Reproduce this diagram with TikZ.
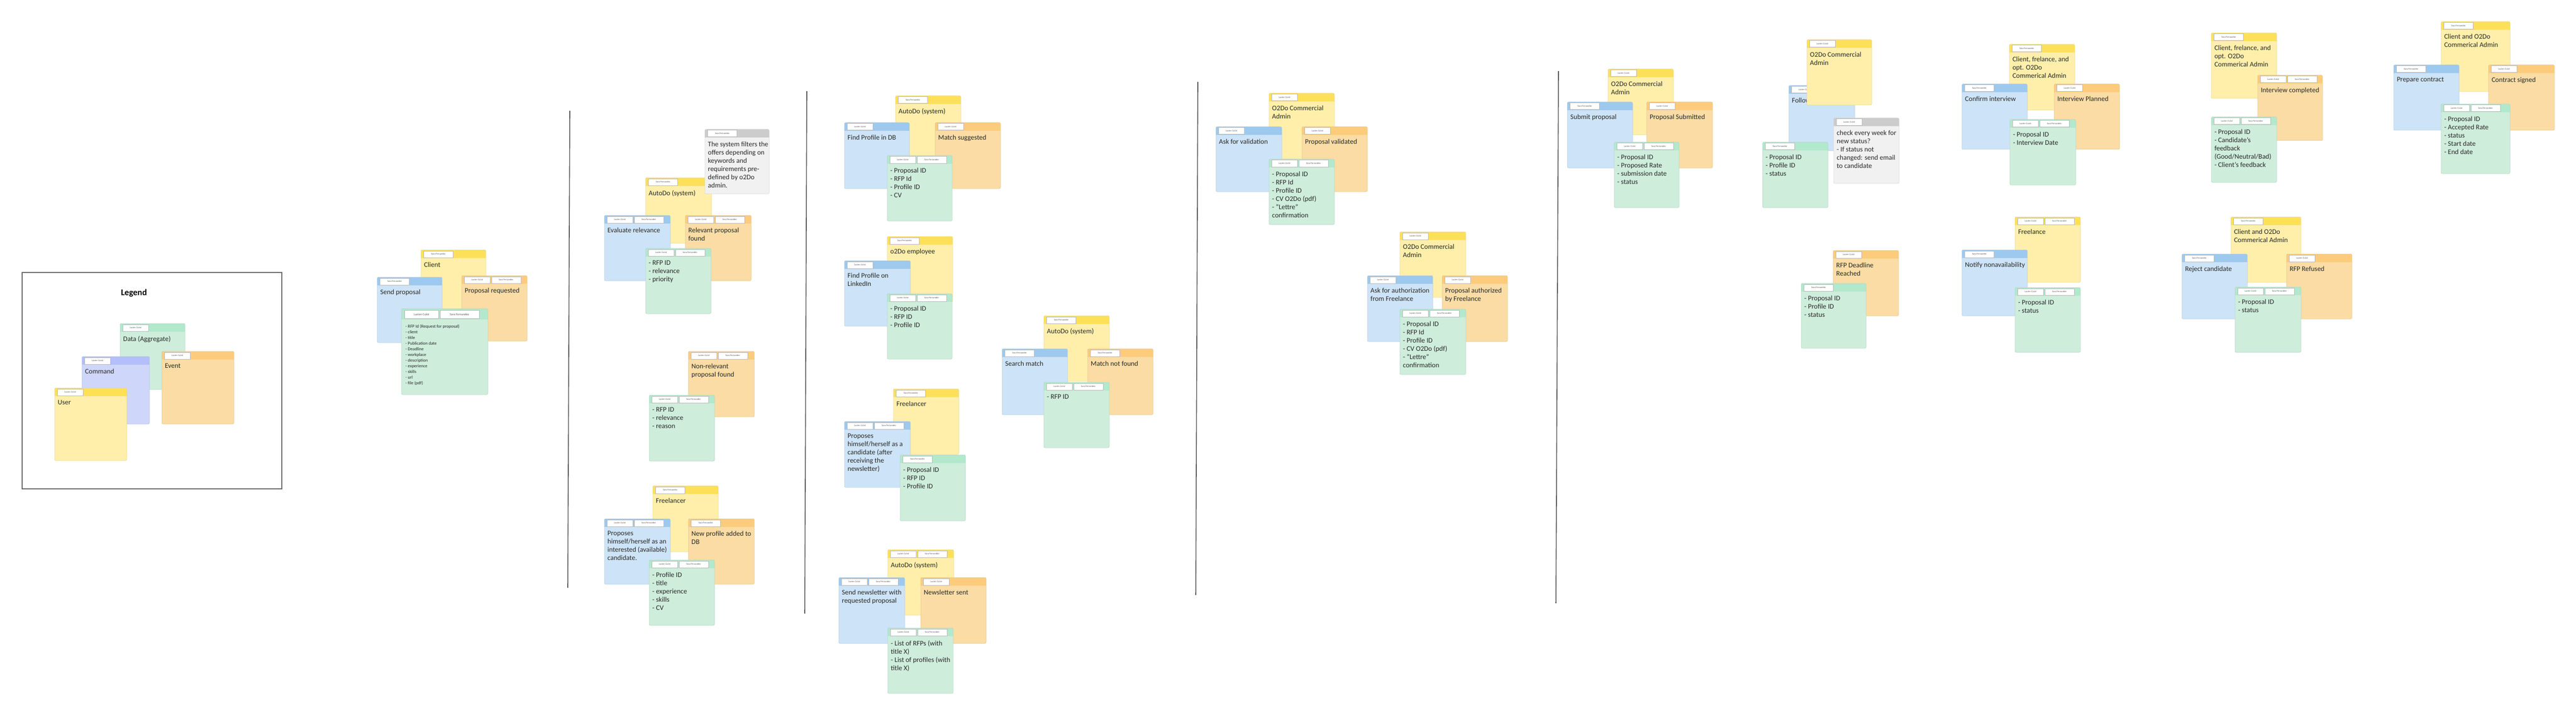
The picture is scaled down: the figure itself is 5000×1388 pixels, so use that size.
\documentclass[tikz,border=0pt]{standalone}
\usepackage{fontspec}
\setmainfont{Carlito}
\definecolor{usrhead}{RGB}{253,224,90}
\definecolor{usrbody}{RGB}{255,239,170}
\definecolor{cmdhead}{RGB}{157,201,238}
\definecolor{cmdbody}{RGB}{205,227,247}
\definecolor{evthead}{RGB}{252,204,124}
\definecolor{evtbody}{RGB}{250,220,164}
\definecolor{dathead}{RGB}{178,232,204}
\definecolor{datbody}{RGB}{206,237,219}
\definecolor{notehead}{RGB}{204,204,204}
\definecolor{notebody}{RGB}{241,241,241}
\definecolor{lavhead}{RGB}{180,190,250}
\definecolor{lavbody}{RGB}{206,214,250}
\definecolor{txtc}{RGB}{40,40,40}
\definecolor{tagedge}{RGB}{185,185,185}
\definecolor{tagtxt}{RGB}{85,85,85}
\definecolor{divc}{RGB}{85,85,85}
\tikzset{
  stxt/.style={anchor=north west, inner sep=0pt, align=left, font=\fontsize{13.5}{16}\selectfont, text=txtc},
  tagbox/.style={draw=tagedge, fill=white, line width=0.5pt, minimum height=13pt, inner sep=0pt, font=\fontsize{4.5}{5}\selectfont, text=tagtxt},
  divider/.style={draw=divc, line width=1.6pt},
  legframe/.style={draw=black!60, line width=1.3pt}
}
\newcommand\tgL[3]{\node[tagbox,minimum width=50pt,anchor=north west] (#1-ta) at (#2+5,#3+1.5) {Lucien Culot};}
\newcommand\tgS[3]{\node[tagbox,minimum width=57pt,anchor=north west] (#1-ta) at (#2+5,#3+1.5) {Sara Fernandez};}
\newcommand\tgLS[3]{\tgL{#1}{#2}{#3}\node[tagbox,minimum width=57pt,anchor=north west] (#1-tb) at ([xshift=2pt]#1-ta.north east) {Sara Fernandez};}
\newcommand\mkstk[8]{%
  \fill[#2head,rounded corners=2.5pt] (#3,#4) rectangle (#5,#6);
  \fill[#2body,rounded corners=2.5pt] (#3,#4+16) rectangle (#5,#6);
  \fill[#2body] (#3,#4+16) rectangle (#5,#4+22);
  \draw[#2body!88!black,line width=0.5pt,rounded corners=2.5pt] (#3,#4) rectangle (#5,#6);
  \csname tg#7\endcsname{#1}{#3}{#4}%
  \node[stxt] (#1) at (#3+6,#4+24) {#8};
}
\begin{document}
\begin{tikzpicture}[x=1pt,y=-1pt]
\useasboundingbox (0,0) rectangle (5000,1388);
\fill[white] (0,0) rectangle (5000,1388);

% ---------- Legend ----------
\draw[legframe] (43,529) rectangle (547,949);
\node[font=\fontsize{17}{20}\selectfont\bfseries, text=black, inner sep=0pt] (legtitle) at (260,569) {Legend};
\mkstk{lgData}{dat}{233}{628}{359}{756}{L}{Data (Aggregate)}
\mkstk{lgCmd}{lav}{159}{692}{290}{823}{L}{Command}
\mkstk{lgEvt}{evt}{314}{682}{454}{823}{L}{Event}
\mkstk{lgUsr}{usr}{106}{753}{246}{894}{L}{User}

% ---------- Client cluster ----------
\mkstk{client}{usr}{817}{485}{943}{612}{S}{Client}
\mkstk{sendProp}{cmd}{732}{538}{858}{665}{S}{Send proposal}
\mkstk{propReq}{evt}{896}{535}{1023}{662}{LS}{Proposal requested}
\fill[dathead,rounded corners=3pt] (779,599) rectangle (947,766);
\fill[datbody,rounded corners=3pt] (779,620) rectangle (947,766);
\fill[datbody] (779,620) rectangle (947,628);
\draw[datbody!88!black,line width=0.5pt,rounded corners=3pt] (779,599) rectangle (947,766);
\node[tagbox,minimum width=66pt,minimum height=16pt,font=\fontsize{6}{7}\selectfont,anchor=north west] (rfpData-ta) at (785,602) {Lucien Culot};
\node[tagbox,minimum width=76pt,minimum height=16pt,font=\fontsize{6}{7}\selectfont,anchor=north west] (rfpData-tb) at ([xshift=2pt]rfpData-ta.north east) {Sara Fernandez};
\node[stxt,font=\fontsize{8.5}{11}\selectfont] (rfpData) at (787,630) {- RFP Id (Request for proposal)\\- client\\- title\\- Publication date\\- Deadline\\- workplace\\- description\\- experience\\- skills\\- url\\- file (pdf)};

% ---------- Section 1 ----------
\coordinate (d1a) at (1106,215); \coordinate (d1b) at (1102,1141);
\draw[divider] (d1a) -- (d1b);
\mkstk{auto1}{usr}{1253}{345}{1381}{472}{S}{AutoDo (system)}
\mkstk{evalRel}{cmd}{1173}{418}{1301}{545}{LS}{Evaluate relevance}
\mkstk{relFound}{evt}{1330}{418}{1458}{545}{LS}{Relevant proposal\\found}
\mkstk{relData}{dat}{1253}{482}{1380}{609}{LS}{- RFP ID\\- relevance\\- priority}
\mkstk{note1}{note}{1368}{251}{1493}{376}{S}{The system filters the\\offers depending on\\keywords and\\requirements pre-\\defined by o2Do\\admin.}

\mkstk{nonRel}{evt}{1336}{682}{1464}{809}{LS}{Non-relevant\\proposal found}
\mkstk{nonRelData}{dat}{1260}{767}{1387}{895}{LS}{- RFP ID\\- relevance\\- reason}

\mkstk{free1}{usr}{1267}{943}{1394}{1071}{S}{Freelancer}
\mkstk{propose1}{cmd}{1173}{1007}{1301}{1134}{LS}{Proposes\\himself/herself as an\\interested (available)\\candidate.}
\mkstk{newProf}{evt}{1336}{1007}{1464}{1134}{S}{New profile added to\\DB}
\mkstk{profData}{dat}{1260}{1087}{1387}{1214}{LS}{- Profile ID\\- title\\- experience\\- skills\\- CV}

% ---------- Section 2 ----------
\coordinate (d2a) at (1566,177); \coordinate (d2b) at (1562,1191);
\draw[divider] (d2a) -- (d2b);
\mkstk{auto2}{usr}{1738}{186}{1865}{313}{S}{AutoDo (system)}
\mkstk{findDB}{cmd}{1639}{238}{1765}{366}{L}{Find Profile in DB}
\mkstk{matchSug}{evt}{1815}{238}{1942}{366}{L}{Match suggested}
\mkstk{matchData}{dat}{1722}{302}{1848}{429}{LS}{- Proposal ID\\- RFP Id\\- Profile ID\\- CV}

\mkstk{emp}{usr}{1722}{459}{1849}{586}{S}{o2Do employee}
\mkstk{findLI}{cmd}{1639}{506}{1767}{633}{L}{Find Profile on\\LinkedIn}
\mkstk{liData}{dat}{1722}{570}{1848}{697}{LS}{- Proposal ID\\- RFP ID\\- Profile ID}

\mkstk{auto3}{usr}{2026}{613}{2153}{740}{S}{AutoDo (system)}
\mkstk{search}{cmd}{1945}{677}{2072}{805}{S}{Search match}
\mkstk{noMatch}{evt}{2111}{677}{2238}{805}{S}{Match not found}
\mkstk{searchData}{dat}{2026}{742}{2153}{869}{LS}{- RFP ID}

\mkstk{free2}{usr}{1734}{755}{1861}{882}{S}{Freelancer}
\mkstk{propose2}{cmd}{1639}{818}{1767}{946}{LS}{Proposes\\himself/herself as a\\candidate (after\\receiving the\\newsletter)}
\mkstk{candData}{dat}{1747}{883}{1874}{1011}{S}{- Proposal ID\\- RFP ID\\- Profile ID}

\mkstk{auto4}{usr}{1723}{1067}{1851}{1194}{LS}{AutoDo (system)}
\mkstk{sendNews}{cmd}{1628}{1121}{1756}{1249}{LS}{Send newsletter with\\requested proposal}
\mkstk{newsSent}{evt}{1787}{1121}{1914}{1249}{L}{Newsletter sent}
\mkstk{newsData}{dat}{1723}{1219}{1850}{1346}{LS}{- List of RFPs (with\\title X)\\- List of profiles (with\\title X)}

% ---------- Section 3 ----------
\coordinate (d3a) at (2325,159); \coordinate (d3b) at (2321,1155);
\draw[divider] (d3a) -- (d3b);
\mkstk{admin1}{usr}{2463}{181}{2590}{308}{L}{O2Do Commercial\\Admin}
\mkstk{askVal}{cmd}{2360}{246}{2488}{372}{L}{Ask for validation}
\mkstk{propVal}{evt}{2527}{246}{2654}{372}{L}{Proposal validated}
\mkstk{valData}{dat}{2463}{309}{2590}{436}{LS}{- Proposal ID\\- RFP Id\\- Profile ID\\- CV O2Do (pdf)\\- "Lettre"\\confirmation}

\mkstk{admin2}{usr}{2717}{450}{2845}{577}{L}{O2Do Commercial\\Admin}
\mkstk{askAuth}{cmd}{2654}{535}{2781}{663}{L}{Ask for authorization\\from Freelance}
\mkstk{propAuth}{evt}{2799}{535}{2926}{663}{L}{Proposal authorized\\by Freelance}
\mkstk{authData}{dat}{2717}{600}{2845}{727}{LS}{- Proposal ID\\- RFP Id\\- Profile ID\\- CV O2Do (pdf)\\- "Lettre"\\confirmation}

% ---------- Section 4 ----------
\coordinate (d4a) at (3025,138); \coordinate (d4b) at (3020,1171);
\draw[divider] (d4a) -- (d4b);
\mkstk{admin3}{usr}{3121}{134}{3248}{262}{L}{O2Do Commercial\\Admin}
\mkstk{submit}{cmd}{3042}{198}{3169}{326}{S}{Submit proposal}
\mkstk{submitted}{evt}{3196}{198}{3324}{326}{L}{Proposal Submitted}
\mkstk{subData}{dat}{3133}{276}{3259}{403}{LS}{- Proposal ID\\- Proposed Rate\\- submission date\\- status}

\mkstk{follow}{cmd}{3472}{166}{3600}{293}{L}{Follow up}
\mkstk{admin4}{usr}{3507}{77}{3633}{204}{L}{O2Do Commercial\\Admin}
\mkstk{followData}{dat}{3421}{276}{3548}{403}{S}{- Proposal ID\\- Profile ID\\- status}
\mkstk{note2}{note}{3559}{229}{3686}{356}{L}{check every week for\\new status?\\- If status not\\changed: send email\\to candidate}

\mkstk{deadline}{evt}{3558}{486}{3685}{613}{L}{RFP Deadline\\Reached}
\mkstk{deadData}{dat}{3496}{550}{3622}{676}{S}{- Proposal ID\\- Profile ID\\- status}

\mkstk{cfa1}{usr}{3900}{86}{4027}{214}{S}{Client, frelance, and\\opt. O2Do\\Commerical Admin}
\mkstk{confirm}{cmd}{3808}{163}{3935}{290}{S}{Confirm interview}
\mkstk{planned}{evt}{3987}{163}{4114}{290}{L}{Interview Planned}
\mkstk{planData}{dat}{3901}{232}{4029}{359}{LS}{- Proposal ID\\- Interview Date}

\mkstk{freel}{usr}{3911}{421}{4038}{548}{LS}{Freelance}
\mkstk{notify}{cmd}{3808}{485}{3935}{613}{S}{Notify nonavailability}
\mkstk{notData}{dat}{3911}{558}{4038}{684}{LS}{- Proposal ID\\- status}

\mkstk{cfa2}{usr}{4292}{64}{4419}{191}{S}{Client, frelance, and\\opt. O2Do\\Commerical Admin}
\mkstk{completed}{evt}{4382}{146}{4508}{273}{LS}{Interview completed}
\mkstk{compData}{dat}{4292}{227}{4419}{354}{LS}{- Proposal ID\\- Candidate's\\feedback\\(Good/Neutral/Bad)\\- Client's feedback}

\mkstk{co1}{usr}{4330}{421}{4466}{548}{S}{Client and O2Do\\Commerical Admin}
\mkstk{reject}{cmd}{4235}{493}{4362}{619}{S}{Reject candidate}
\mkstk{refused}{evt}{4438}{493}{4565}{619}{L}{RFP Refused}
\mkstk{rejData}{dat}{4338}{557}{4466}{684}{LS}{- Proposal ID\\- status}

\mkstk{co2}{usr}{4738}{42}{4872}{178}{S}{Client and O2Do\\Commerical Admin}
\mkstk{prepare}{cmd}{4646}{126}{4773}{253}{S}{Prepare contract}
\mkstk{signed}{evt}{4830}{126}{4958}{253}{L}{Contract signed}
\mkstk{conData}{dat}{4738}{202}{4872}{337}{LS}{- Proposal ID\\- Accepted Rate\\- status\\- Start date\\- End date}
\end{tikzpicture}
\end{document}
